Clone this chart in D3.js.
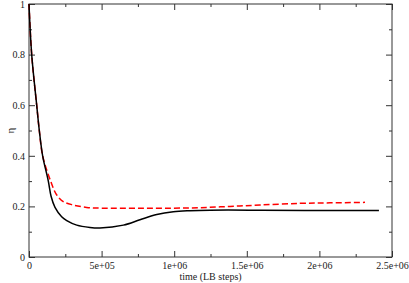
<!DOCTYPE html>
<html>
<head>
<meta charset="utf-8">
<script src="https://cdnjs.cloudflare.com/ajax/libs/d3/7.8.5/d3.min.js"></script>
<style>
  body { margin: 0; background: #fff; }
  svg { display: block; }
  text { font-family: "Liberation Serif", "Times New Roman", serif; }
</style>
</head>
<body>
<script>
// eta vs time
var tBlack   = [0, 18600, 53000, 71000, 94000, 133000, 152000, 179000, 225000, 260000, 329000, 420000, 489000, 650000, 764000, 880000, 994000, 1109000, 1247000, 1600000, 2000000, 2410000];
var etaBlack = [1.0, 0.8, 0.6, 0.5, 0.4, 0.3, 0.24, 0.196, 0.159, 0.144, 0.126, 0.117, 0.115, 0.126, 0.147, 0.168, 0.179, 0.183, 0.185, 0.185, 0.184, 0.184];

var tRed   = [0, 18600, 53000, 71000, 94000, 149000, 191000, 236000, 305000, 397000, 496000, 764000, 992000, 1178000, 1384000, 1591000, 1866000, 2073000, 2314000];
var etaRed = [1.0, 0.8, 0.6, 0.5, 0.4, 0.3, 0.245, 0.219, 0.2055, 0.196, 0.193, 0.193, 0.193, 0.195, 0.2, 0.2055, 0.212, 0.214, 0.216];

var xTicks = [0, 5e5, 1e6, 1.5e6, 2e6, 2.5e6];
var xTickLabels = ["0", "5e+05", "1e+06", "1.5e+06", "2e+06", "2.5e+06"];
var xMinor = [2.5e5, 7.5e5, 1.25e6, 1.75e6, 2.25e6];
var yTicks = [0, 0.2, 0.4, 0.6, 0.8, 1];
var yTickLabels = ["0", "0.2", "0.4", "0.6", "0.8", "1"];
var yMinor = [0.1, 0.3, 0.5, 0.7, 0.9];

var W = 409, H = 283;
var m = {left: 29, top: 4, right: 17, bottom: 26};
var w = W - m.left - m.right, h = H - m.top - m.bottom;
var FONT = "Liberation Serif";

var svg = d3.select("body").append("svg").attr("width", W).attr("height", H);
var g = svg.append("g").attr("transform", "translate(" + m.left + "," + m.top + ")");

var x = d3.scaleLinear().domain([0, 2.5e6]).range([0, w]);
var y = d3.scaleLinear().domain([0, 1]).range([h, 0]);

function styleAxis(sel){
	sel.attr("font-family", FONT).attr("font-size", 10);
	sel.select(".domain").remove();
	sel.selectAll("line").attr("stroke", "#333");
	sel.selectAll("text").attr("fill", "#222");
}

// bottom / top
g.append("g").attr("transform", "translate(0," + h + ")")
	.call(d3.axisBottom(x).tickValues(xTicks).tickSize(-6).tickPadding(5)
		.tickFormat(function(d, i){ return xTickLabels[i]; }))
	.call(styleAxis);
g.append("g").attr("transform", "translate(0," + h + ")")
	.call(d3.axisBottom(x).tickValues(xMinor).tickSize(-3).tickFormat(""))
	.call(styleAxis);
g.append("g")
	.call(d3.axisTop(x).tickValues(xTicks).tickSize(-6).tickFormat(""))
	.call(styleAxis);
g.append("g")
	.call(d3.axisTop(x).tickValues(xMinor).tickSize(-3).tickFormat(""))
	.call(styleAxis);

// left / right
g.append("g")
	.call(d3.axisLeft(y).tickValues(yTicks).tickSize(-6).tickPadding(4)
		.tickFormat(function(d, i){ return yTickLabels[i]; }))
	.call(styleAxis);
g.append("g")
	.call(d3.axisLeft(y).tickValues(yMinor).tickSize(-3).tickFormat(""))
	.call(styleAxis);
g.append("g").attr("transform", "translate(" + w + ",0)")
	.call(d3.axisRight(y).tickValues(yTicks).tickSize(-6).tickFormat(""))
	.call(styleAxis);
g.append("g").attr("transform", "translate(" + w + ",0)")
	.call(d3.axisRight(y).tickValues(yMinor).tickSize(-3).tickFormat(""))
	.call(styleAxis);

// frame
g.append("rect").attr("x", 0).attr("y", 0).attr("width", w).attr("height", h)
	.attr("fill", "none").attr("stroke", "#333").attr("stroke-width", 1);

var line = d3.line()
	.x(function(d){ return x(d[0]); })
	.y(function(d){ return y(d[1]); })
	.curve(d3.curveCatmullRom.alpha(0.5));

g.append("path").datum(d3.zip(tRed, etaRed))
	.attr("d", line).attr("fill", "none")
	.attr("stroke", "#ff0000").attr("stroke-width", 1.5)
	.attr("stroke-dasharray", "6,3");

g.append("path").datum(d3.zip(tBlack, etaBlack))
	.attr("d", line).attr("fill", "none")
	.attr("stroke", "#000").attr("stroke-width", 1.5);

// axis titles
svg.append("text")
	.attr("x", m.left + w / 2).attr("y", 279.5)
	.attr("text-anchor", "middle")
	.attr("font-family", FONT).attr("font-size", 10).attr("fill", "#222")
	.text("time (LB steps)");

svg.append("text")
	.attr("transform", "translate(14," + (m.top + h / 2) + ") rotate(-90)")
	.attr("text-anchor", "middle")
	.attr("font-family", FONT).attr("font-size", 11).attr("fill", "#222")
	.text("η");
</script>
</body>
</html>
